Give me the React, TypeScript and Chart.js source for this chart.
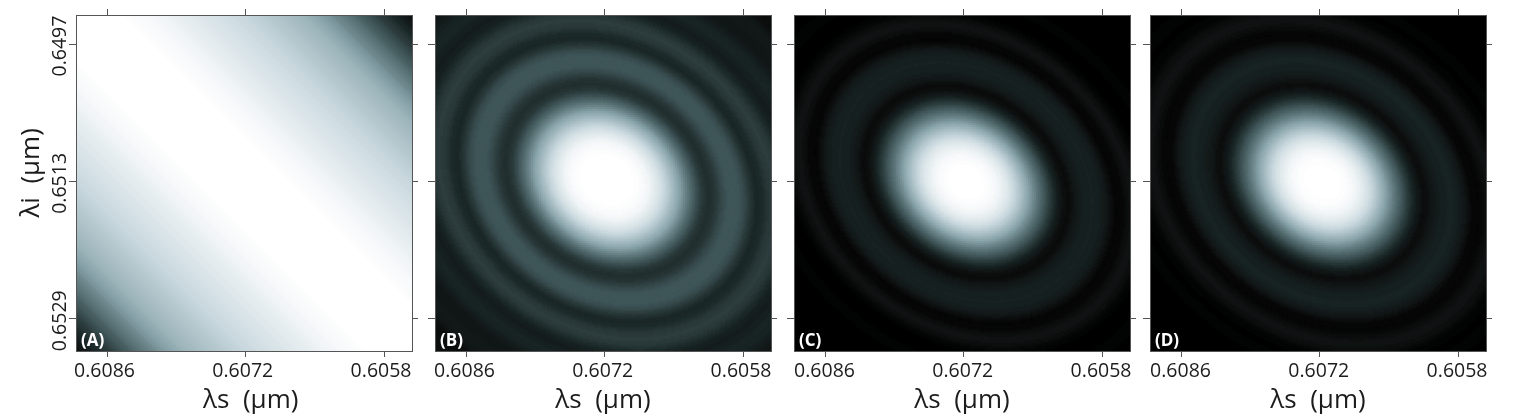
import React, { useEffect, useRef } from "react";
import { Chart, registerables } from "chart.js";

Chart.register(...registerables);

const profileA = [1,1,1,1,1,1,1,.99,.98,.97,.96,.95,.935,.92,.905,.89,.875,.86,.845,.83,.815,.8,.785,.77,.75,.73,.71,.69,.67,.65,.63,.61,.59,.56,.52,.48,.44,.40,.36,.32,.28,.24,.2,.17,.14,.11,.08,.05,.03];
const profileB = [1,1,1,1,1,.99,.97,.94,.88,.81,.72,.62,.52,.41,.31,.225,.16,.135,.155,.2,.235,.245,.24,.21,.155,.115,.125,.16,.175,.17,.135,.1,.085,.095,.11,.105,.085,.065,.06,.07,.075,.065,.045,.035,.04,.045,.035,.02,.02];
const profileC = [1,1,1,.995,.98,.955,.91,.85,.76,.66,.55,.44,.34,.25,.17,.1,.05,.03,.06,.085,.095,.1,.095,.08,.045,.015,.02,.045,.055,.035,.01,0,0,.005,.01,.005,0,0,0,0,0,0,0,0,0,0,0,0,0];
const profileD = [1,1,1,.995,.985,.96,.92,.86,.78,.68,.57,.46,.36,.27,.19,.12,.065,.035,.055,.08,.095,.1,.1,.085,.055,.02,.015,.03,.05,.05,.035,.01,.005,.005,.01,.005,0,0,0,0,0,0,0,0,0,0,0,0,0];

// Colour ramp: brightness stop -> colour.
const rampStops = [0, .05, .085, .12, .24, .5, .75, 1];
const rampColors = ["#000000", "#101212", "#141c1c", "#1c2828", "#3f5558", "#86a2a8", "#c6d6dc", "#ffffff"];

const xTickValues = [0.6086, 0.6072, 0.6058];
const yTickValues = [0.6497, 0.6513, 0.6529];
const xRange = [0.608919, 0.605517];
const yRange = [0.649362, 0.653276];

const panelNames = ["(A)", "(B)", "(C)", "(D)"];
const panelLefts = [76, 435, 794, 1150];
const panelLabelOffsets = [-3, -2, -1, -1];
const panelProfiles = [profileA, profileB, profileC, profileD];
// iso-brightness quadratic form per panel: [xx, yy, xy, centreX, centreY]
const panelShapes = [
  [0.5, 0.5, -1, 168, 168],
  [0.723, 0.81, -0.27, 172, 165],
  [0.723, 0.81, -0.32, 172, 167],
  [0.723, 0.81, -0.32, 172, 167],
];

const LEVELS = 96;
const CELL = 2;
const SIDE = 168;

function hex(c: string) {
  return [1, 3, 5].map((k) => parseInt(c.slice(k, k + 2), 16));
}
function levelColor(v: number) {
  let k = 0;
  while (k < rampStops.length - 2 && v > rampStops[k + 1]) k++;
  const t = (v - rampStops[k]) / (rampStops[k + 1] - rampStops[k]);
  const a = hex(rampColors[k]);
  const b = hex(rampColors[k + 1]);
  return `rgb(${a.map((q, n) => Math.round(q + (b[n] - q) * Math.min(1, Math.max(0, t)))).join(",")})`;
}
function lookup(profile: number[], r: number) {
  const p = Math.min(profile.length - 1.001, r / 5);
  const k = Math.floor(p);
  return profile[k] + (profile[k + 1] - profile[k]) * (p - k);
}
function buildDatasets(idx: number) {
  const profile = panelProfiles[idx];
  const [a, c, b, cx, cy] = panelShapes[idx];
  const groups: { x: number; y: number }[][] = Array.from({ length: LEVELS + 1 }, () => []);
  for (let j = 0; j < SIDE; j++) {
    for (let i = 0; i < SIDE; i++) {
      const dx = (i + 0.5) * CELL - cx;
      const dy = (j + 0.5) * CELL - cy;
      const r = Math.sqrt(Math.max(0, a * dx * dx + c * dy * dy + b * dx * dy));
      const v = lookup(profile, r);
      groups[Math.round(v * LEVELS)].push({
        x: xRange[0] + ((i + 0.5) / SIDE) * (xRange[1] - xRange[0]),
        y: yRange[0] + ((j + 0.5) / SIDE) * (yRange[1] - yRange[0]),
      });
    }
  }
  return groups.map((data, level) => ({
    data,
    parsing: false as const,
    normalized: true,
    showLine: false,
    pointStyle: "rect" as const,
    pointRadius: 1.6,
    pointHoverRadius: 1.6,
    pointBorderWidth: 0,
    pointBackgroundColor: levelColor(level / LEVELS),
    backgroundColor: levelColor(level / LEVELS),
  }));
}

const INK = "#1c1c1c";
const FRAME = "#555555";
const FONT = "'Open Sans', sans-serif";

function axis(position: string, ids: number[], len: number, size: number, extra: any) {
  const horizontal = position === "top" || position === "bottom";
  const range = horizontal ? xRange : yRange;
  return {
    type: "linear",
    axis: horizontal ? "x" : "y",
    position,
    reverse: true,
    min: Math.min(range[0], range[1]),
    max: Math.max(range[0], range[1]),
    afterBuildTicks: (s: any) => {
      s.ticks = ids.map((v) => ({ value: v }));
    },
    afterFit: (s: any) => {
      if (horizontal) s.height = size;
      else s.width = size;
    },
    grid: { drawOnChartArea: false, drawTicks: true, tickLength: len, color: FRAME, lineWidth: 1 },
    border: { display: true, color: FRAME, width: 1, z: 1 },
    ...extra,
  };
}

function Panel({ idx }: { idx: number }) {
  const ref = useRef<HTMLCanvasElement>(null);
  useEffect(() => {
    const labelPlugin = {
      id: "panelName",
      afterDraw(chart: any) {
        const { ctx, chartArea } = chart;
        ctx.save();
        ctx.fillStyle = "#ffffff";
        ctx.font = `bold 17px ${FONT}`;
        ctx.textBaseline = "alphabetic";
        ctx.fillText(panelNames[idx], chartArea.left + 5, chartArea.bottom - 5);
        ctx.restore();
      },
    };
    const tickFont = { family: FONT, size: 19.5 };
    const chart = new Chart(ref.current!, {
      type: "scatter",
      data: { datasets: buildDatasets(idx) as any },
      plugins: [labelPlugin],
      options: {
        responsive: false,
        animation: false,
        devicePixelRatio: 1,
        events: [],
        layout: { padding: 0 },
        plugins: { legend: { display: false }, tooltip: { enabled: false } },
        elements: { point: { borderWidth: 0 } },
        scales: {
          x: axis("bottom", xTickValues, 6, 65, {
            ticks: {
              color: INK, font: tickFont, padding: 3, maxRotation: 0, autoSkip: false,
              labelOffset: panelLabelOffsets[idx],
              callback: (v: number) => v.toFixed(4),
            },
            title: {
              display: true,
              text: idx === 0 ? "  λs  (µm)" : "λs  (µm)",
              color: INK,
              font: { family: FONT, size: 26 },
              padding: 0,
            },
          }),
          xTop: axis("top", xTickValues, 6, 15, { ticks: { display: false } }),
          y: axis("left", yTickValues, 7, 76, {
            ticks: {
              display: idx === 0, color: INK, font: tickFont, padding: -22, crossAlign: "center",
              minRotation: 90, maxRotation: 90, autoSkip: false, labelOffset: 2,
              callback: (v: number) => v.toFixed(4),
            },
            title: {
              display: idx === 0,
              text: "   λi  (µm)",
              color: INK,
              font: { family: FONT, size: 26 },
              padding: { top: 16, bottom: 0 },
            },
          }),
          yRight: axis("right", yTickValues, 6, 24, { ticks: { display: false } }),
        },
      } as any,
    });
    return () => chart.destroy();
  }, [idx]);
  return (
    <canvas
      ref={ref}
      width={436}
      height={416}
      style={{ position: "absolute", left: panelLefts[idx] - 76, top: 0, width: 436, height: 416, display: "block" }}
    />
  );
}

export default function App() {
  return (
    <div style={{ position: "absolute", left: 0, top: 0, width: 1516, height: 416, background: "#fff", overflow: "hidden" }}>
      {panelNames.map((_, i) => (
        <Panel key={i} idx={i} />
      ))}
    </div>
  );
}
